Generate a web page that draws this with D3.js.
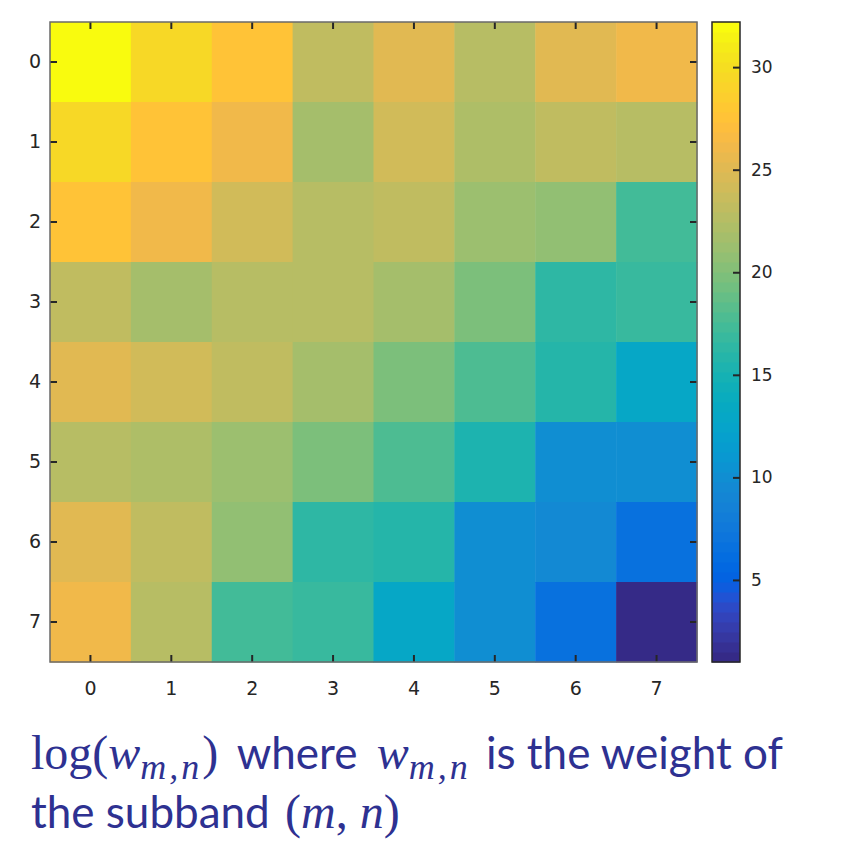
<!DOCTYPE html>
<html>
<head>
<meta charset="utf-8">
<script src="https://cdn.jsdelivr.net/npm/d3@7"></script>
<style>
  html, body { margin: 0; padding: 0; background: #fff; }
  svg { display: block; }
</style>
</head>
<body>
<svg id="chart" width="863" height="842"></svg>
<script>
// subband indices (rows = m, columns = n)
const rowLabels = [0, 1, 2, 3, 4, 5, 6, 7];
const colLabels = [0, 1, 2, 3, 4, 5, 6, 7];

// log(w_mn), one array per row
const row0 = [32.2, 29.5, 27.6, 23.2, 25.1, 22.7, 25.1, 26.1];
const row1 = [29.5, 27.6, 26.1, 21.7, 24.2, 22.2, 23.2, 22.7];
const row2 = [27.6, 26.1, 24.2, 22.7, 23.2, 21.2, 20.7, 17.3];
const row3 = [23.2, 21.7, 22.7, 22.7, 21.7, 19.8, 16.4, 16.8];
const row4 = [25.1, 24.2, 23.2, 21.7, 19.8, 17.8, 15.9, 12.9];
const row5 = [22.7, 22.2, 21.2, 19.8, 17.8, 15.4, 10.0, 10.0];
const row6 = [25.1, 23.2, 20.7, 16.4, 15.9, 10.0, 9.5, 6.6];
const row7 = [26.1, 22.7, 17.3, 16.8, 12.9, 10.0, 6.6, 1.0];
const weights = [row0, row1, row2, row3, row4, row5, row6, row7];

const cbTicks = [5, 10, 15, 20, 25, 30];
const cmin = 1.0, cmax = 32.2;

// MATLAB parula, 64 levels
const parula = [
[0.2081,0.1663,0.5292],[0.2116,0.1898,0.5777],[0.2123,0.2138,0.6270],[0.2081,0.2386,0.6771],
[0.1959,0.2645,0.7279],[0.1707,0.2919,0.7792],[0.1253,0.3242,0.8303],[0.0591,0.3598,0.8683],
[0.0117,0.3875,0.8820],[0.0060,0.4086,0.8828],[0.0165,0.4266,0.8786],[0.0329,0.4430,0.8720],
[0.0498,0.4586,0.8641],[0.0629,0.4737,0.8554],[0.0723,0.4887,0.8467],[0.0779,0.5040,0.8384],
[0.0793,0.5200,0.8312],[0.0749,0.5375,0.8263],[0.0641,0.5570,0.8240],[0.0488,0.5772,0.8228],
[0.0343,0.5966,0.8199],[0.0265,0.6137,0.8135],[0.0239,0.6287,0.8038],[0.0231,0.6418,0.7913],
[0.0228,0.6535,0.7768],[0.0267,0.6642,0.7607],[0.0384,0.6743,0.7436],[0.0590,0.6838,0.7254],
[0.0843,0.6928,0.7062],[0.1133,0.7015,0.6859],[0.1453,0.7098,0.6646],[0.1801,0.7177,0.6424],
[0.2178,0.7250,0.6193],[0.2586,0.7317,0.5954],[0.3022,0.7376,0.5712],[0.3482,0.7424,0.5473],
[0.3953,0.7459,0.5244],[0.4420,0.7481,0.5033],[0.4871,0.7491,0.4840],[0.5300,0.7491,0.4661],
[0.5709,0.7485,0.4494],[0.6099,0.7473,0.4337],[0.6473,0.7456,0.4188],[0.6834,0.7435,0.4044],
[0.7184,0.7411,0.3905],[0.7525,0.7384,0.3768],[0.7858,0.7356,0.3633],[0.8185,0.7327,0.3498],
[0.8507,0.7299,0.3360],[0.8824,0.7274,0.3217],[0.9139,0.7258,0.3063],[0.9450,0.7261,0.2886],
[0.9739,0.7314,0.2666],[0.9938,0.7455,0.2403],[0.9990,0.7653,0.2164],[0.9955,0.7861,0.1967],
[0.9880,0.8066,0.1794],[0.9789,0.8271,0.1633],[0.9697,0.8481,0.1475],[0.9626,0.8705,0.1309],
[0.9589,0.8949,0.1132],[0.9598,0.9218,0.0948],[0.9661,0.9514,0.0755],[0.9763,0.9831,0.0538]
];
const nLev = parula.length;
const levelColor = i => d3.rgb(parula[i][0]*255, parula[i][1]*255, parula[i][2]*255).formatHex();
const colorOf = v => {
  let i = Math.floor((v - cmin) / (cmax - cmin) * nLev);
  i = Math.max(0, Math.min(nLev - 1, i));
  return levelColor(i);
};

const svg = d3.select('#chart');
const [pLeft, pRight, pTop, pBottom] = [50, 697, 22, 662];
const axisColor = '#262626';
const tickFont = '"DejaVu Sans", Verdana, sans-serif';

const x = d3.scaleBand().domain(colLabels).range([pLeft, pRight]);
const y = d3.scaleBand().domain(rowLabels).range([pTop, pBottom]);

// cells
const cells = [];
weights.forEach((r, m) => r.forEach((v, n) => cells.push({m, n, v})));
svg.append('g').selectAll('rect').data(cells).enter().append('rect')
  .attr('x', d => x(d.n))
  .attr('y', d => y(d.m))
  .attr('width', x.bandwidth() + 0.5)
  .attr('height', y.bandwidth() + 0.5)
  .attr('fill', d => colorOf(d.v));

// axes, ticks pointing inward on all four sides
function styleAxis(g){
  g.select('.domain').remove();
  g.selectAll('line').attr('stroke', axisColor).attr('stroke-width', 2);
  g.selectAll('text').attr('fill', axisColor).style('font-family', tickFont).style('font-size', '19px');
}
svg.append('g').attr('transform', `translate(0,${pBottom})`)
  .call(d3.axisBottom(x).tickSizeInner(-7).tickSizeOuter(0).tickPadding(20)).call(styleAxis);
svg.append('g').attr('transform', `translate(0,${pTop})`)
  .call(d3.axisTop(x).tickSizeInner(-7).tickSizeOuter(0).tickFormat('')).call(styleAxis);
svg.append('g').attr('transform', `translate(${pLeft},0)`)
  .call(d3.axisLeft(y).tickSizeInner(-7).tickSizeOuter(0).tickPadding(9)).call(styleAxis);
svg.append('g').attr('transform', `translate(${pRight},0)`)
  .call(d3.axisRight(y).tickSizeInner(-7).tickSizeOuter(0).tickFormat('')).call(styleAxis);

svg.append('rect')
  .attr('x', pLeft).attr('y', pTop).attr('width', pRight - pLeft).attr('height', pBottom - pTop)
  .attr('fill', 'none').attr('stroke', '#6a6a6a').attr('stroke-width', 1.5);

// colorbar
const [cbL, cbR] = [712, 740];
const cbY = d3.scaleLinear().domain([cmin, cmax]).range([pBottom, pTop]);
const step = (cmax - cmin) / nLev;
svg.append('g').selectAll('rect').data(d3.range(nLev)).enter().append('rect')
  .attr('x', cbL)
  .attr('y', i => cbY(cmin + (i + 1) * step))
  .attr('width', cbR - cbL)
  .attr('height', i => cbY(cmin + i * step) - cbY(cmin + (i + 1) * step) + 0.5)
  .attr('fill', i => levelColor(i));
const cbAxis = svg.append('g').attr('transform', `translate(${cbR},0)`)
  .call(d3.axisRight(cbY).tickValues(cbTicks).tickSizeInner(-7).tickSizeOuter(0).tickPadding(11)).call(styleAxis);
cbAxis.selectAll('text').style('font-size', '17px');
svg.append('rect')
  .attr('x', cbL).attr('y', pTop).attr('width', cbR - cbL).attr('height', pBottom - pTop)
  .attr('fill', 'none').attr('stroke', axisColor).attr('stroke-width', 1.5);

// caption
const capColor = '#2e3191';
const mathFont = '"Liberation Serif", "DejaVu Serif", serif';
const textFont = 'Lato, "Open Sans", sans-serif';
const sub = (t, s) => t.append('tspan').style('font-family', mathFont).style('font-size', '36px')
  .style('font-style', 'italic').style('letter-spacing', '3px').attr('dy', 10).text(s);
const math = (t, s, it) => t.append('tspan').style('font-family', mathFont).style('font-size', '48px')
  .style('font-style', it ? 'italic' : 'normal').text(s);

const cap1 = svg.append('text').attr('x', 31).attr('y', 769)
  .attr('fill', capColor).style('font-size', '44px').style('font-family', textFont);
math(cap1, 'log(');
math(cap1, 'w', true);
sub(cap1, 'm,n');
math(cap1, ')').attr('dy', -10);
cap1.append('tspan').attr('dx', 8).text(' where ');
math(cap1, 'w', true).attr('dx', 8);
sub(cap1, 'm,n');
cap1.append('tspan').attr('dy', -10).attr('dx', 4).text(' is the weight of');

const cap2 = svg.append('text').attr('x', 31).attr('y', 828)
  .attr('fill', capColor).style('font-size', '44px').style('font-family', textFont);
cap2.append('tspan').text('the subband ');
math(cap2, '(').attr('dx', 4);
math(cap2, 'm', true);
math(cap2, ', ');
math(cap2, 'n', true);
math(cap2, ')');
</script>
</body>
</html>
